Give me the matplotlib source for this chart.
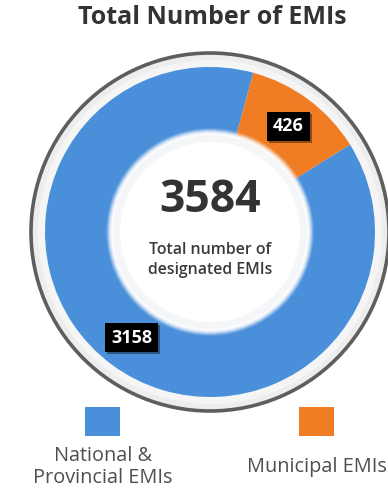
import numpy as np
import matplotlib
matplotlib.use('Agg')
import matplotlib.pyplot as plt
import matplotlib.patches as mpatches
import matplotlib.patheffects as pe

plt.rcParams['font.family'] = ['Open Sans', 'DejaVu Sans']

# EMI counts by type
categories = ['National &\nProvincial EMIs', 'Municipal EMIs']
counts = [3158, 426]
colors = ['#4A8FD9', '#F07D23']
title = 'Total Number of EMIs'
center_caption = 'Total number of\ndesignated EMIs'

W, H = 388, 490
fig = plt.figure(figsize=(W / 100, H / 100), dpi=100)
ax = fig.add_axes([0, 0, 1, 1])


def yy(y):
    # image-style y (top down) to axis y
    return H - y


cx, cy = 210, yy(232)
r_out, r_in = 165, 98

# outer bezel
ax.add_patch(mpatches.Circle((cx, cy), 179, facecolor='#EDEDED',
                             edgecolor='#5E5E5E', linewidth=2.6, zorder=1))
ax.add_patch(mpatches.Circle((cx, cy), 172, facecolor='#F5F5F5',
                             edgecolor='none', zorder=1))

wedges, _ = ax.pie(counts, colors=colors, startangle=32, counterclock=False,
                   radius=r_out, center=(cx, cy),
                   wedgeprops=dict(width=r_out - r_in, edgecolor='none'))
for w in wedges:
    w.set_zorder(2)

# soft halo round the centre disc
for i, a in enumerate(np.linspace(0.12, 0.6, 6)):
    ax.add_patch(mpatches.Circle((cx, cy), r_in + 6 - i, facecolor='white',
                                 edgecolor='none', alpha=a, zorder=3))
ax.add_patch(mpatches.Circle((cx, cy), r_in - 1, facecolor='#F5F6F8',
                             edgecolor='none', zorder=3))
ax.add_patch(mpatches.Circle((cx, cy), r_in - 8, facecolor='white',
                             edgecolor='none', zorder=3))

# value boxes at the middle of each segment
r_mid = (r_out + r_in) / 2
for w, n in zip(wedges, counts):
    ang = np.deg2rad((w.theta1 + w.theta2) / 2)
    t = ax.text(cx + r_mid * np.cos(ang), cy + r_mid * np.sin(ang), str(n),
                ha='center', va='center', fontsize=13, fontweight='bold',
                color='white', zorder=5,
                bbox=dict(boxstyle='square,pad=0.32', facecolor='black',
                          edgecolor='none'))
    t.get_bbox_patch().set_path_effects(
        [pe.SimplePatchShadow(offset=(1.5, -1.5), alpha=0.4), pe.Normal()])

ax.text(cx, yy(201), str(sum(counts)), ha='center', va='center',
        fontsize=32, fontweight='bold', color='#333333', zorder=5)
ax.text(cx, yy(260), center_caption, ha='center', va='center',
        fontsize=11.4, fontweight='semibold', color='#3A3A3A',
        linespacing=1.35, zorder=5)

ax.text(212, yy(18), title, ha='center', va='center', fontsize=18,
        fontweight='bold', color='#333333')

# legend
leg_x = [102.5, 316.5]
for x, c, lab in zip(leg_x, colors, categories):
    ax.add_patch(mpatches.Rectangle((x - 17.5, yy(436)), 35, 29,
                                    facecolor=c, edgecolor='none'))
    ax.text(x, yy(467), lab, ha='center', va='center', fontsize=14.3,
            fontweight='medium', color='#4F4F4F', linespacing=1.15)

ax.set_xlim(0, W)
ax.set_ylim(0, H)
ax.set_aspect('equal')
ax.axis('off')

fig.savefig('out.png', dpi=100, facecolor='white')
